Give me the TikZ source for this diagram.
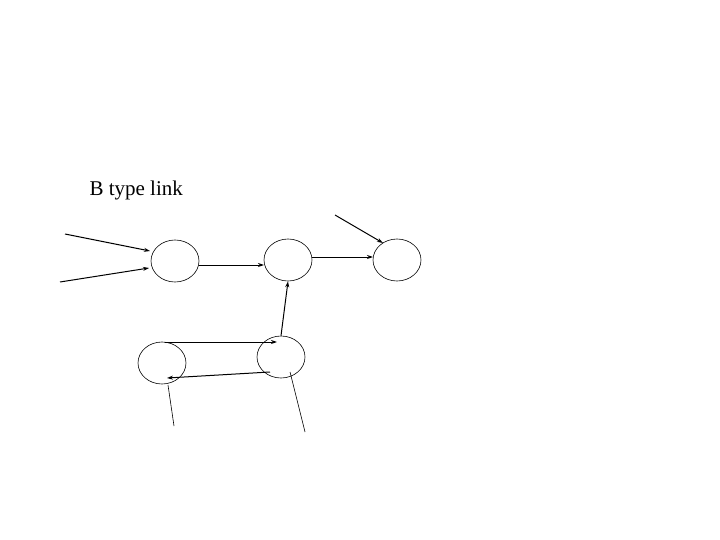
\documentclass[tikz,border=0pt]{standalone}
\usepackage{fontspec}
\setmainfont{Liberation Serif}
\usetikzlibrary{arrows.meta,shapes.geometric}
\begin{document}
\begin{tikzpicture}[x=1pt,y=-1pt,
  ov/.style={draw,ellipse,minimum width=48pt,minimum height=42pt,inner sep=0pt,line width=0.6pt},
  ar/.style={-{Stealth[length=6pt,width=4pt]},line width=1pt},
  ln/.style={line width=0.6pt}]
\useasboundingbox (0,0) rectangle (720,540);
\node[anchor=west,font=\fontsize{21}{24}\selectfont] (t) at (86,190) {B type link};
\node[ov] (A) at (175,261) {};
\node[ov] (B) at (288,260) {};
\node[ov] (C) at (397,260) {};
\node[ov] (D) at (162,363) {};
\node[ov] (E) at (281,357) {};
\coordinate (p1) at (65,234);
\coordinate (p2) at (60,282);
\coordinate (p3) at (335,215);
\coordinate (p4) at (174,426);
\coordinate (p5) at (305,432);
\draw[ar] (p1) -- (150,251);
\draw[ar] (p2) -- (149,268);
\draw[ar] (199,265) -- (264,265);
\draw[ar] (312,257) -- (373,257);
\draw[ar] (p3) -- (383,243);
\draw[ar] (E.north) -- (B.south);
\draw[ar] (165,342) -- (277,342);
\draw[ar] (270,372) -- (167,378);
\draw[ln] (168,385) -- (p4);
\draw[ln] (290,372) -- (p5);
\end{tikzpicture}
\end{document}
